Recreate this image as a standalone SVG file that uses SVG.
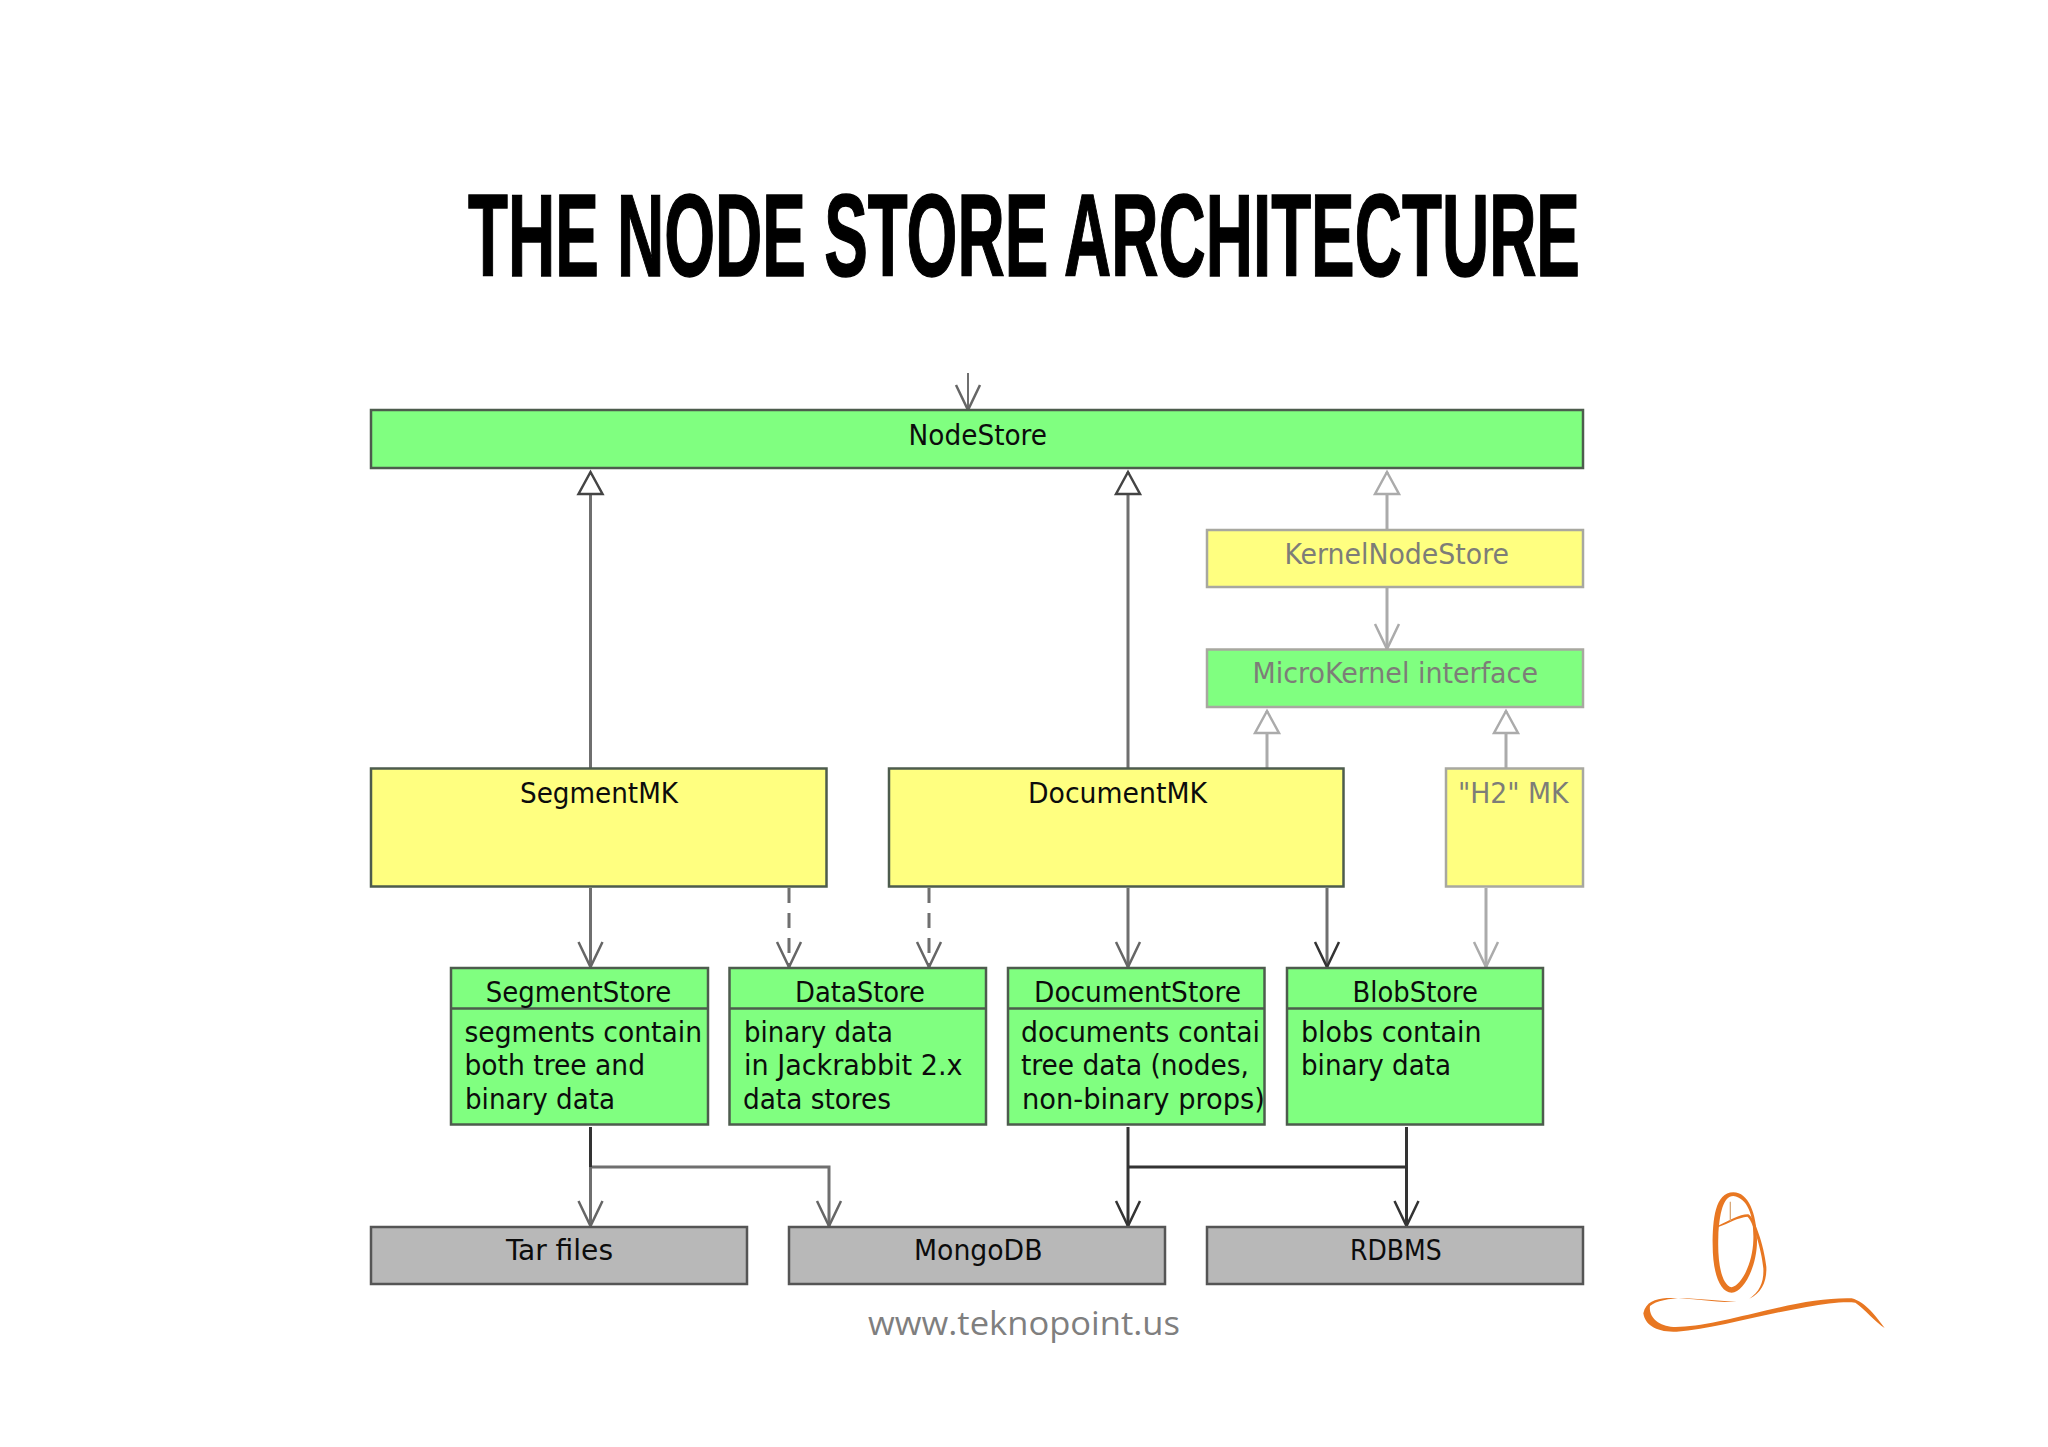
<svg xmlns="http://www.w3.org/2000/svg" width="2048" height="1447" viewBox="0 0 2048 1447">
<style>
.g{fill:#80ff80}.y{fill:#ffff80}.s{fill:#b8b8b8}
.b{stroke:#4d5c4d;stroke-width:2.5}.f{stroke:#a8a8a0;stroke-width:2.5}
.t{font-family:"DejaVu Sans Condensed","DejaVu Sans",sans-serif;font-size:28px;fill:#0c0c0c}
.tf{fill:#7d7d78}
.c{fill:none}
.d{stroke:#333;stroke-width:3}.m{stroke:#6f6f6f;stroke-width:3}.l{stroke:#ababab;stroke-width:3}
.dash{stroke-dasharray:15 10}
.oa{fill:none;stroke-width:2.5}
.tri{fill:#fff;stroke-width:2.5}
</style>
<defs>
<marker id="od" markerUnits="userSpaceOnUse" markerWidth="30" markerHeight="30" refX="26" refY="15" orient="auto"><path class="oa" stroke="#333" d="M1 3L26 15L1 27"/></marker>
<marker id="om" markerUnits="userSpaceOnUse" markerWidth="30" markerHeight="30" refX="26" refY="15" orient="auto"><path class="oa" stroke="#666" d="M1 3L26 15L1 27"/></marker>
<marker id="ol" markerUnits="userSpaceOnUse" markerWidth="30" markerHeight="30" refX="26" refY="15" orient="auto"><path class="oa" stroke="#ababab" d="M1 3L26 15L1 27"/></marker>
<marker id="td" markerUnits="userSpaceOnUse" markerWidth="30" markerHeight="30" refX="25" refY="15" orient="auto"><path class="tri" stroke="#444" d="M3 3L25 15L3 27Z"/></marker>
<marker id="tl" markerUnits="userSpaceOnUse" markerWidth="30" markerHeight="30" refX="25" refY="15" orient="auto"><path class="tri" stroke="#ababab" d="M3 3L25 15L3 27Z"/></marker>
</defs>
<rect width="2048" height="1447" fill="#fff"/>
<text x="468" y="276" font-family="'Liberation Sans Narrow','Liberation Sans',sans-serif" font-weight="700" font-size="116" stroke="#000" stroke-width="1.5" textLength="1112" lengthAdjust="spacingAndGlyphs">THE NODE STORE ARCHITECTURE</text>

<g id="connectors" class="c">
<path class="m" style="stroke-width:2" d="M968 373V410" marker-end="url(#om)"/>
<path class="m" d="M590.5 768V472" marker-end="url(#td)"/>
<path class="m" d="M1128 768V472" marker-end="url(#td)"/>
<path class="l" d="M1387 530V472" marker-end="url(#tl)"/>
<path class="l" d="M1387 588V649" marker-end="url(#ol)"/>
<path class="l" d="M1267 768V711" marker-end="url(#tl)"/>
<path class="l" d="M1506 768V711" marker-end="url(#tl)"/>
<path class="m" d="M590.5 888V967" marker-end="url(#om)"/>
<path class="m dash" d="M789 888V967" marker-end="url(#om)"/>
<path class="m dash" d="M929 888V967" marker-end="url(#om)"/>
<path class="m" d="M1128 888V967" marker-end="url(#om)"/>
<path class="m" d="M1327 888V967" marker-end="url(#od)"/>
<path class="l" d="M1486 888V967" marker-end="url(#ol)"/>
<path class="m" d="M590.5 1167V1226" marker-end="url(#om)"/>
<path class="m" d="M590.5 1167H829V1226" marker-end="url(#om)"/>
<path class="d" d="M590.5 1127V1167"/>
<path class="d" d="M1128 1127V1226" marker-end="url(#od)"/>
<path class="d" d="M1406.5 1127V1226" marker-end="url(#od)"/>
<path class="d" d="M1128 1167H1406.5"/>
</g>

<g id="NodeStore"><rect class="g b" x="371" y="410" width="1212" height="58"/><text class="t" x="908.6" y="445" textLength="138.4" lengthAdjust="spacingAndGlyphs">NodeStore</text></g>
<g id="KernelNodeStore"><rect class="y f" x="1207" y="530" width="376" height="57"/><text class="t tf" x="1284.5" y="564" textLength="224.5" lengthAdjust="spacingAndGlyphs">KernelNodeStore</text></g>
<g id="MicroKernel"><rect class="g f" x="1207" y="649.5" width="376" height="57.5"/><text class="t tf" x="1252.6" y="683" textLength="285.4" lengthAdjust="spacingAndGlyphs">MicroKernel interface</text></g>
<g id="SegmentMK"><rect class="y b" x="371" y="768.5" width="455.5" height="118"/><text class="t" x="520" y="803" textLength="158" lengthAdjust="spacingAndGlyphs">SegmentMK</text></g>
<g id="DocumentMK"><rect class="y b" x="889" y="768.5" width="454.5" height="118"/><text class="t" x="1028" y="803" textLength="179" lengthAdjust="spacingAndGlyphs">DocumentMK</text></g>
<g id="H2MK"><rect class="y f" x="1446" y="768.5" width="137" height="118"/><text class="t tf" x="1458" y="803" textLength="110.6" lengthAdjust="spacingAndGlyphs">"H2" MK</text></g>

<g id="SegmentStore"><rect class="g b" x="451" y="968" width="257" height="156.5"/><path class="b" d="M451 1008.5H708"/>
<text class="t" x="485.7" y="1002" textLength="185.7" lengthAdjust="spacingAndGlyphs">SegmentStore</text>
<text class="t" x="464.5" y="1041.7" textLength="237.5" lengthAdjust="spacingAndGlyphs">segments contain</text>
<text class="t" x="464.5" y="1075" textLength="180.5" lengthAdjust="spacingAndGlyphs">both tree and</text>
<text class="t" x="465" y="1109" textLength="150" lengthAdjust="spacingAndGlyphs">binary data</text></g>
<g id="DataStore"><rect class="g b" x="729.5" y="968" width="256.5" height="156.5"/><path class="b" d="M729.5 1008.5H986"/>
<text class="t" x="795" y="1002" textLength="130" lengthAdjust="spacingAndGlyphs">DataStore</text>
<text class="t" x="744" y="1041.7" textLength="149" lengthAdjust="spacingAndGlyphs">binary data</text>
<text class="t" x="744" y="1075" textLength="218.5" lengthAdjust="spacingAndGlyphs">in Jackrabbit 2.x</text>
<text class="t" x="743" y="1109" textLength="148" lengthAdjust="spacingAndGlyphs">data stores</text></g>
<g id="DocumentStore"><rect class="g b" x="1008" y="968" width="256.5" height="156.5"/><path class="b" d="M1008 1008.5H1264.5"/>
<text class="t" x="1034" y="1002" textLength="207" lengthAdjust="spacingAndGlyphs">DocumentStore</text>
<text class="t" x="1021" y="1041.7" textLength="239" lengthAdjust="spacingAndGlyphs">documents contai</text>
<text class="t" x="1021" y="1075" textLength="228" lengthAdjust="spacingAndGlyphs">tree data (nodes,</text>
<text class="t" x="1022" y="1109" textLength="243" lengthAdjust="spacingAndGlyphs">non-binary props)</text></g>
<g id="BlobStore"><rect class="g b" x="1287" y="968" width="256" height="156.5"/><path class="b" d="M1287 1008.5H1543"/>
<text class="t" x="1352.6" y="1002" textLength="125.4" lengthAdjust="spacingAndGlyphs">BlobStore</text>
<text class="t" x="1301" y="1041.7" textLength="180.6" lengthAdjust="spacingAndGlyphs">blobs contain</text>
<text class="t" x="1301" y="1075" textLength="150" lengthAdjust="spacingAndGlyphs">binary data</text></g>

<g id="TarFiles"><rect class="s b" style="stroke:#555" x="371" y="1227" width="376" height="57"/><text class="t" x="506" y="1260" textLength="107" lengthAdjust="spacingAndGlyphs">Tar files</text></g>
<g id="MongoDB"><rect class="s b" style="stroke:#555" x="789" y="1227" width="376" height="57"/><text class="t" x="914" y="1260" textLength="128.5" lengthAdjust="spacingAndGlyphs">MongoDB</text></g>
<g id="RDBMS"><rect class="s b" style="stroke:#555" x="1207" y="1227" width="376" height="57"/><text class="t" x="1350" y="1260" textLength="91.6" lengthAdjust="spacingAndGlyphs">RDBMS</text></g>

<text x="868" y="1335" font-family="'Open Sans',sans-serif" font-size="32" fill="#7f7f7f" textLength="312" lengthAdjust="spacingAndGlyphs">www.teknopoint.us</text>

<g transform="translate(1620 1170) scale(.33333)" fill="#e87722">
<path fill-rule="evenodd" d="M340 67C385 67 410 130 411 210C412 290 370 368 335 368C300 368 278 310 278 225C278 150 285 67 340 67ZM335 352C365 345 398 280 400 210C402 140 385 85 340 78C310 78 298 130 295 200C292 280 305 345 335 352Z"/>
<path d="M293 168C330 150 360 132 385 133C402 140 432 225 439 290C441 335 425 368 388 386C420 365 432 335 430 295C425 235 395 145 382 140C355 142 325 160 293 172Z"/>
<path fill="#d9a878" d="M329 95L333 95L333 152L329 154Z"/>
<path d="M350 396C280 398 200 381 140 384C105 387 78 395 70 430C75 465 110 488 170 485C280 477 420 435 560 411C620 401 670 394 706 398C735 418 768 458 794 474C772 445 738 396 695 385C620 383 540 397 440 421C340 445 230 473 160 471C115 469 85 440 90 408C110 390 160 383 200 385C250 388 300 393 350 396Z"/>
</g>
</svg>
